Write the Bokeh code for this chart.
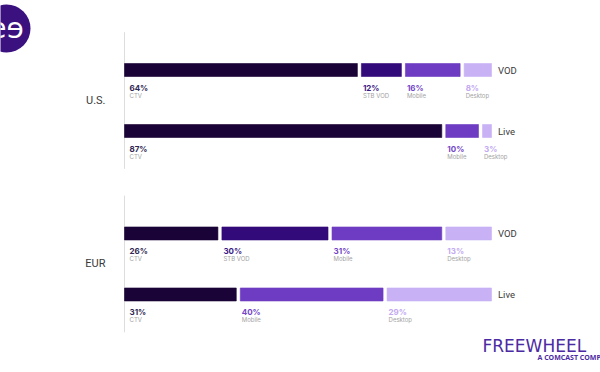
from bokeh.plotting import figure
from bokeh.models import ColumnDataSource, Range1d
from bokeh.core.properties import value
from bokeh.embed import file_html
from bokeh.resources import INLINE

# ---------------- data ----------------
regions = ["U.S.", "EUR"]
types = ["VOD", "Live"]

us_vod_devices = ["CTV", "STB VOD", "Mobile", "Desktop"]
us_vod_values = [64, 12, 16, 8]
us_live_devices = ["CTV", "Mobile", "Desktop"]
us_live_values = [87, 10, 3]
eur_vod_devices = ["CTV", "STB VOD", "Mobile", "Desktop"]
eur_vod_values = [26, 30, 31, 13]
eur_live_devices = ["CTV", "Mobile", "Desktop"]
eur_live_values = [31, 40, 29]

series = {
    ("U.S.", "VOD"): (us_vod_devices, us_vod_values),
    ("U.S.", "Live"): (us_live_devices, us_live_values),
    ("EUR", "VOD"): (eur_vod_devices, eur_vod_values),
    ("EUR", "Live"): (eur_live_devices, eur_live_values),
}

bar_colors = {"CTV": "#1a0336", "STB VOD": "#330a7a", "Mobile": "#6e3cc2", "Desktop": "#c8b2f5"}
pct_colors = {"CTV": "#2f2752", "STB VOD": "#3b1a85", "Mobile": "#7445c6", "Desktop": "#c2a9f2"}

# ---------------- layout constants ----------------
W, H = 600, 372
PX_PER_PCT = 3.67          # pixels per percent
ZERO_PX = 124              # pixel position of 0 %
ROW_PX = 61                # pixels per row
TOP_ROW_PX = 69.5          # pixel position of first row
GROUP_GAP = 0.68           # extra rows between regions
GAP = 4 / PX_PER_PCT       # gap between segments (in %)
BAR_H = 13 / ROW_PX

X0 = -ZERO_PX / PX_PER_PCT
Y0 = -TOP_ROW_PX / ROW_PX

def dx(px):
    return X0 + px / PX_PER_PCT

def dy(py):
    return Y0 + py / ROW_PX

p = figure(width=W, height=H, output_backend="svg", toolbar_location=None,
           x_range=Range1d(X0, X0 + W / PX_PER_PCT),
           y_range=Range1d(Y0 + H / ROW_PX, Y0),
           min_border=0, outline_line_color=None)
p.axis.visible = False
p.grid.visible = False
p.background_fill_color = "white"
p.border_fill_color = "white"

bars = dict(left=[], right=[], y=[], color=[], pct=[], dev=[], pcol=[], xoff=[])
rows = {}
for g, reg in enumerate(regions):
    for t, typ in enumerate(types):
        row = g * (len(types) + GROUP_GAP) + t
        rows[(reg, typ)] = row
        devs, vals = series[(reg, typ)]
        cum = 0
        for i, (d, v) in enumerate(zip(devs, vals)):
            left = cum + (GAP / 2 if i > 0 else 0)
            right = cum + v - (GAP / 2 if i < len(vals) - 1 else 0)
            cum += v
            bars["left"].append(left)
            bars["right"].append(right)
            bars["y"].append(row)
            bars["color"].append(bar_colors[d])
            bars["pct"].append(f"{v}%")
            bars["dev"].append(d)
            bars["pcol"].append(pct_colors[d])
            bars["xoff"].append(5 if i == 0 else 1.5)

src = ColumnDataSource(bars)

# vertical axis lines per region
for reg in regions:
    rr = [rows[(reg, t)] for t in types]
    p.segment(x0=0, x1=0, y0=min(rr) - 0.62, y1=max(rr) + 0.62,
              line_color="#dddddd", line_width=1)

p.hbar(y="y", left="left", right="right", height=BAR_H, source=src,
       fill_color="color", line_color="color", line_alpha=0.6)

p.text(x="left", y="y", text="pct", source=src, text_color="pcol",
       text_font=value("Inter"), text_font_style="bold", text_font_size="8px",
       text_baseline="alphabetic", x_offset="xoff", y_offset=18)
p.text(x="left", y="y", text="dev", source=src, text_color="#a3a3a3",
       text_font=value("Inter"), text_font_size="6px",
       text_baseline="alphabetic", x_offset="xoff", y_offset=25.5)

# type labels on the right
p.text(x=[100] * len(rows), y=list(rows.values()), text=[k[1] for k in rows],
       text_color="#3a3a3a", text_font=value("Roboto"), text_font_size="9.5px",
       text_baseline="middle", x_offset=6.5)

# region labels
p.text(x=[0] * len(regions),
       y=[sum(rows[(r, t)] for t in types) / len(types) for r in regions],
       text=regions, text_color="#3a3a3a", text_font=value("Roboto"),
       text_font_size="11px", text_align="right", text_baseline="middle", x_offset=-19)

# logo (top-left)
p.circle(x=[dx(6)], y=[dy(28)], radius=24, radius_units="screen",
         fill_color="#3b1180", line_color=None)
p.text(x=[dx(6)], y=[dy(28)], text=["eɘ"], text_color="white",
       text_font=value("DejaVu Sans"), text_font_size="28px",
       text_align="center", text_baseline="middle")

# brand (bottom-right)
p.text(x=[dx(482)], y=[dy(345)], text=["FREEWHEEL"], text_color="#4b2aa3",
       text_font=value("DejaVu Sans"), text_font_size="17px", text_baseline="alphabetic")
p.text(x=[dx(537)], y=[dy(357)], text=["A COMCAST COMPANY"], text_color="#4b2aa3",
       text_font=value("Open Sans"), text_font_style="bold", text_font_size="7px",
       text_baseline="alphabetic")

open("out.html", "w").write(file_html(p, INLINE))
